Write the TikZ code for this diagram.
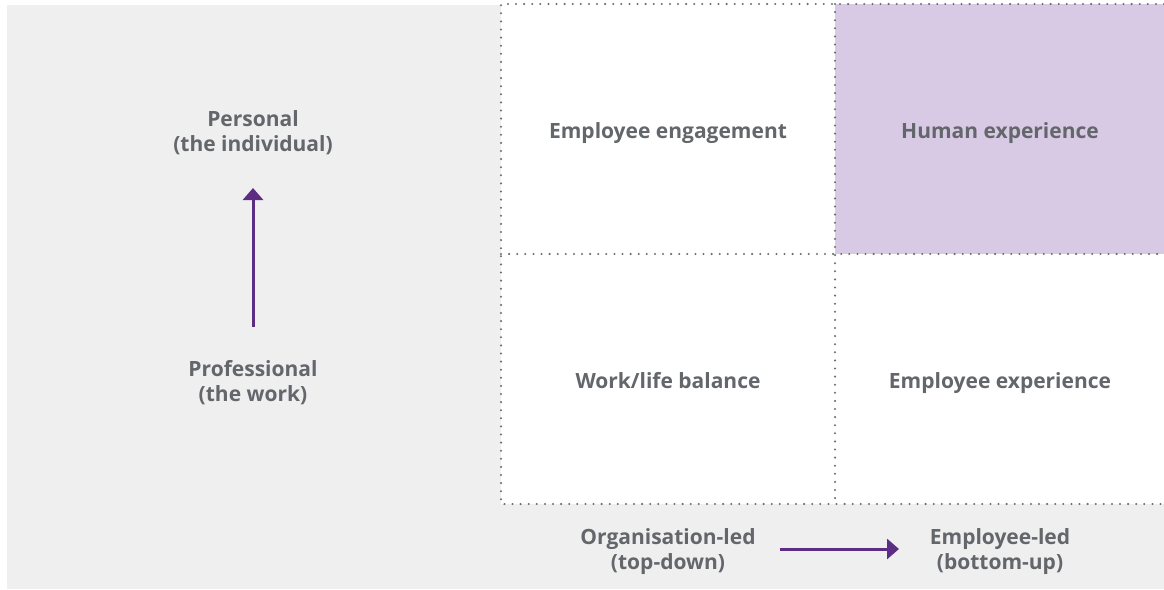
\documentclass[tikz,border=0pt]{standalone}
\usepackage{fontspec}
\setmainfont{Open Sans}
\usetikzlibrary{arrows.meta}
\definecolor{bggray}{HTML}{EFEFEF}
\definecolor{txtgray}{HTML}{63666A}
\definecolor{dotgray}{HTML}{6D6E71}
\definecolor{lilac}{HTML}{D8CAE4}
\definecolor{plum}{HTML}{5C2D82}
\tikzset{
  lab/.style={align=center,text=txtgray,font=\fontsize{21}{25}\selectfont\bfseries},
  one/.style={lab,text height=15pt,text depth=5pt},
  grid/.style={dotgray,line width=2.3pt,line cap=round,dash pattern=on 0pt off 8.1pt},
  dir/.style={plum,line width=3pt,-{Triangle[width=20pt,length=12pt]}}
}
\begin{document}
\begin{tikzpicture}[x=1pt,y=-1pt]
  \useasboundingbox (0,0) rectangle (1164,589);
  % background and cells
  \fill[bggray] (7,5) rectangle (1164,589);
  \fill[white] (501,4) rectangle (1164,504);
  \fill[lilac] (835,4) rectangle (1164,254);
  \draw[grid] (1164,4) -- (501,4) -- (501,504) -- (1164,504);
  \draw[grid] (835,4) -- (835,504);
  \draw[grid] (501,254) -- (1164,254);
  % quadrant labels
  \foreach \nm/\x/\y/\txt in {
    eng/668/133/{Employee engagement},
    hum/1000/133/{Human experience},
    wlb/668/383/{Work/life balance},
    exp/1000/383/{Employee experience}}
  {
    \node[one] (\nm) at (\x,\y) {\txt};
  }
  % axes
  \node[lab] (pers) at (253,133) {Personal\\(the individual)};
  \node[lab] (prof) at (253,383) {Professional\\(the work)};
  \node[lab] (org) at (668,552) {Organisation-led\\(top-down)};
  \node[lab] (emp) at (1000,552) {Employee-led\\(bottom-up)};
  \coordinate (vlo) at (253,327);
  \coordinate (vhi) at (253,188);
  \coordinate (hlo) at (780,549);
  \coordinate (hhi) at (899,549);
  \draw[dir] (vlo) -- (vhi);
  \draw[dir] (hlo) -- (hhi);
\end{tikzpicture}
\end{document}
